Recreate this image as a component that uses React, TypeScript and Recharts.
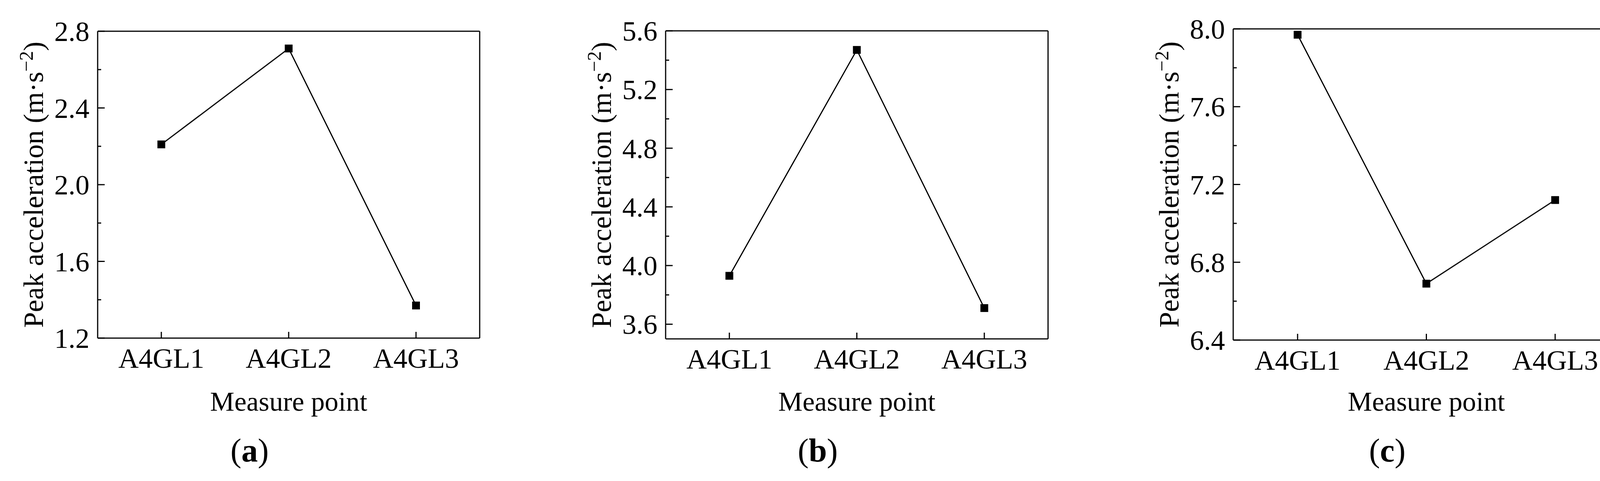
import React from 'react';
import { LineChart, Line, XAxis, YAxis, CartesianGrid } from 'recharts';

const categories = ['A4GL1', 'A4GL2', 'A4GL3'];
const valuesA = [2.21, 2.71, 1.37];
const valuesB = [3.93, 5.47, 3.71];
const valuesC = [7.97, 6.69, 7.12];

const majorTicksA = [1.2, 1.6, 2.0, 2.4, 2.8];
const minorTicksA = [1.4, 1.8, 2.2, 2.6];
const majorTicksB = [3.6, 4.0, 4.4, 4.8, 5.2, 5.6];
const minorTicksB = [3.8, 4.2, 4.6, 5.0, 5.4];
const majorTicksC = [6.4, 6.8, 7.2, 7.6, 8.0];
const minorTicksC = [6.6, 7.0, 7.4, 7.8];

const yLabelMain = 'Peak acceleration (m·s';
const yLabelSup = '−2';
const xLabel = 'Measure point';
const captions = ['a', 'b', 'c'];

const FONT = 'Liberation Serif';
const H = 1232;

type Panel = {
  key: string;
  values: number[];
  major: number[];
  minor: number[];
  domain: [number, number];
  offset: number;
  width: number;
  plotLeft: number;
  plotRight: number;
  plotTop: number;
  plotBottom: number;
  caption: string;
};

const panels: Panel[] = [
  { key: 'a', values: valuesA, major: majorTicksA, minor: minorTicksA, domain: [1.2, 2.8], offset: 0, width: 1400, plotLeft: 250, plotRight: 1228, plotTop: 80, plotBottom: 866, caption: captions[0] },
  { key: 'b', values: valuesB, major: majorTicksB, minor: minorTicksB, domain: [3.5, 5.6], offset: 1400, width: 1400, plotLeft: 304, plotRight: 1283, plotTop: 79, plotBottom: 868, caption: captions[1] },
  { key: 'c', values: valuesC, major: majorTicksC, minor: minorTicksC, domain: [6.4, 8.0], offset: 2790, width: 1400, plotLeft: 367, plotRight: 1356, plotTop: 74, plotBottom: 871, caption: captions[2] },
];

function isMajor(v: number, major: number[]) {
  return major.some((m) => Math.abs(m - v) < 1e-6);
}

function ChartPanel({ p }: { p: Panel }) {
  const data = categories.map((c, i) => ({ name: c, v: p.values[i] }));
  const plotW = p.plotRight - p.plotLeft;
  const pad = plotW / 6;
  const xAxisH = 100;
  const marginLeft = 20;
  const yAxisW = p.plotLeft - marginLeft;
  const ticks = [...p.major, ...p.minor].sort((a, b) => a - b);
  const cx = (p.plotLeft + p.plotRight) / 2;
  const cy = (p.plotTop + p.plotBottom) / 2;
  const yLabX = p.plotLeft - 140;

  const YTick = (props: any) => {
    const { y, payload } = props;
    const v = payload.value as number;
    const maj = isMajor(v, p.major);
    return (
      <g>
        <line x1={p.plotLeft} x2={p.plotLeft + (maj ? 18 : 9)} y1={y} y2={y} stroke="#000" strokeWidth={3} />
        {maj && (
          <text x={p.plotLeft - 21} y={y + 25} textAnchor="end" fontFamily={FONT} fontSize={72} fill="#000">
            {v.toFixed(1)}
          </text>
        )}
      </g>
    );
  };

  const XTick = (props: any) => {
    const { x, payload } = props;
    return (
      <g>
        <line x1={x} x2={x} y1={p.plotBottom} y2={p.plotBottom - 16} stroke="#000" strokeWidth={3} />
        <text x={x} y={p.plotBottom + 76} textAnchor="middle" fontFamily={FONT} fontSize={72} fill="#000">
          {payload.value}
        </text>
      </g>
    );
  };

  const XLabel = () => (
    <g>
      <text x={cx} y={1052} textAnchor="middle" fontFamily={FONT} fontSize={70} fill="#000">
        {xLabel}
      </text>
      <text x={cx - 100} y={1182} textAnchor="middle" fontFamily={FONT} fontSize={84} fill="#000">
        (<tspan fontWeight="bold">{p.caption}</tspan>)
      </text>
    </g>
  );

  const YLabel = () => (
    <text
      x={yLabX}
      y={cy}
      transform={`rotate(-90, ${yLabX}, ${cy})`}
      textAnchor="middle"
      fontFamily={FONT}
      fontSize={72}
      fill="#000"
    >
      {yLabelMain}
      <tspan dy={-26} fontSize={50}>{yLabelSup}</tspan>
      <tspan dy={26}>)</tspan>
    </text>
  );

  return (
    <div style={{ position: 'absolute', left: p.offset, top: 0, width: p.width, height: H }}>
      <LineChart
        width={p.width}
        height={H}
        data={data}
        margin={{ top: p.plotTop, right: p.width - p.plotRight, left: marginLeft, bottom: H - p.plotBottom - xAxisH }}
      >
        <CartesianGrid
          stroke="#000"
          strokeWidth={3}
          horizontalCoordinatesGenerator={(args: any) => [args.offset.top]}
          verticalCoordinatesGenerator={(args: any) => [args.offset.left + args.offset.width]}
        />
        <XAxis
          dataKey="name"
          height={xAxisH}
          padding={{ left: pad, right: pad }}
          axisLine={{ stroke: '#000', strokeWidth: 3 }}
          tickLine={false}
          tickSize={0}
          tickMargin={0}
          tick={<XTick />}
          interval={0}
          label={{ content: <XLabel /> }}
        />
        <YAxis
          type="number"
          domain={p.domain}
          ticks={ticks}
          width={yAxisW}
          allowDataOverflow
          axisLine={{ stroke: '#000', strokeWidth: 3 }}
          tickLine={false}
          tickSize={0}
          tickMargin={0}
          tick={<YTick />}
          interval={0}
          label={{ content: <YLabel /> }}
        />
        <Line
          type="linear"
          dataKey="v"
          stroke="#000"
          strokeWidth={3}
          isAnimationActive={false}
          dot={(props: any) => (
            <rect
              key={`dot-${p.key}-${props.index}`}
              x={props.cx - 10}
              y={props.cy - 10}
              width={20}
              height={20}
              fill="#000"
            />
          )}
          activeDot={false}
        />
      </LineChart>
    </div>
  );
}

export default function App() {
  return (
    <div style={{ position: 'absolute', left: 0, top: 0, width: 4190, height: H, background: '#fff' }}>
      {panels.map((p) => (
        <ChartPanel key={p.key} p={p} />
      ))}
    </div>
  );
}
